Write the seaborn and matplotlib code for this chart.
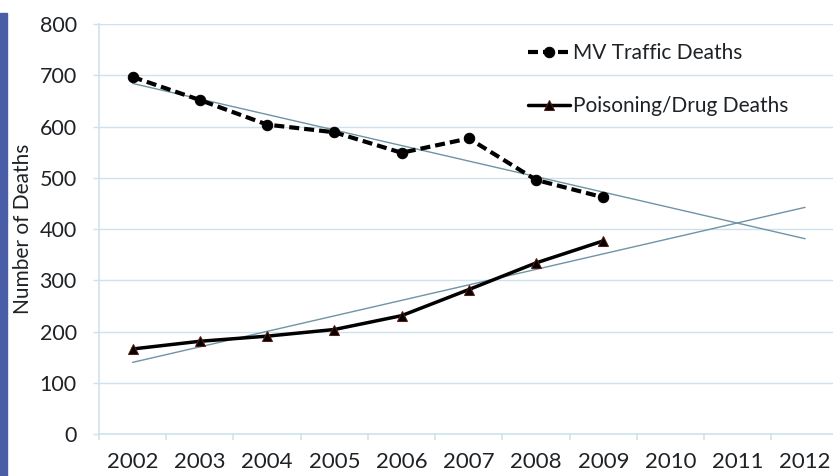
"""
Motor vehicle traffic deaths vs poisoning/drug deaths, 2002-2009,
with linear trend lines extended to 2012.
"""

import matplotlib.pyplot as plt
import numpy as np
import pandas as pd
import seaborn as sns
from matplotlib.patches import Rectangle

# Data
years = [2002, 2003, 2004, 2005, 2006, 2007, 2008, 2009, 2010, 2011, 2012]
data_years = [2002, 2003, 2004, 2005, 2006, 2007, 2008, 2009]
mv_deaths = [697, 652, 604, 589, 549, 577, 496, 462]
poison_deaths = [166, 181, 191, 204, 231, 282, 334, 377]

GRID = "#cfe2ec"
TREND = "#6f94a6"
TEXT = "#1e2226"

sns.set_theme(style="white")
plt.rcParams["font.family"] = ["Lato", "DejaVu Sans"]

fig = plt.figure(figsize=(8.33, 4.76), dpi=100)
ax = fig.add_axes([0.1188, 0.0882, 0.888, 0.861])

# category positions (Excel-style category axis)
pos = {y: i for i, y in enumerate(years)}
df = pd.DataFrame({
    "x": [pos[y] for y in data_years],
    "mv": mv_deaths,
    "poison": poison_deaths,
})

# linear trend lines over the full category range
xs = np.arange(len(years))
for col in ["mv", "poison"]:
    k, b = np.polyfit(df["x"], df[col], 1)
    ax.plot(xs, k * xs + b, color=TREND, lw=1.0, zorder=2)

sns.lineplot(data=df, x="x", y="mv", ax=ax, color="black", lw=3,
             linestyle=(0, (2.4, 1.2)), marker="o", markersize=7.5,
             markeredgecolor="black", label="MV Traffic Deaths", zorder=3)
sns.lineplot(data=df, x="x", y="poison", ax=ax, color="black", lw=2.5,
             marker="^", markersize=7.5, markerfacecolor="black",
             markeredgecolor="#5a1a10", label="Poisoning/Drug Deaths", zorder=3)

ax.set_xlim(-0.5, len(years) - 0.5)
ax.set_ylim(0, 800)
ax.set_yticks(range(0, 801, 100))
ax.set_xticks(xs)
ax.set_xticklabels([str(y) for y in years])
ax.set_xticks(np.arange(-0.5, len(years), 1), minor=True)

ax.grid(axis="y", color=GRID, lw=1)
ax.set_axisbelow(True)
for s in ["top", "right"]:
    ax.spines[s].set_visible(False)
for s in ["left", "bottom"]:
    ax.spines[s].set_color(GRID)
    ax.spines[s].set_linewidth(1.2)

ax.tick_params(axis="x", which="major", length=0, labelsize=16, pad=13,
               colors=TEXT)
ax.tick_params(axis="x", which="minor", length=4, width=1.2, color=GRID,
               direction="out", bottom=True)
ax.tick_params(axis="y", length=4, width=1, color=GRID, labelsize=15.5,
               labelcolor=TEXT, pad=12, left=True)

ax.set_xlabel("")
ax.set_ylabel("Number of Deaths", fontsize=15, color=TEXT, labelpad=5)

ax.legend(loc="upper left", bbox_to_anchor=(0.555, 1.0), frameon=False,
          fontsize=15, handlelength=2.0, handletextpad=0.15,
          labelspacing=1.6, labelcolor=TEXT)

# blue strip on the left edge
fig.patches.append(Rectangle((0, 0), 0.009, 0.972, transform=fig.transFigure,
                             color="#4a5ea8", zorder=0))

fig.savefig("out.png", dpi=100)
